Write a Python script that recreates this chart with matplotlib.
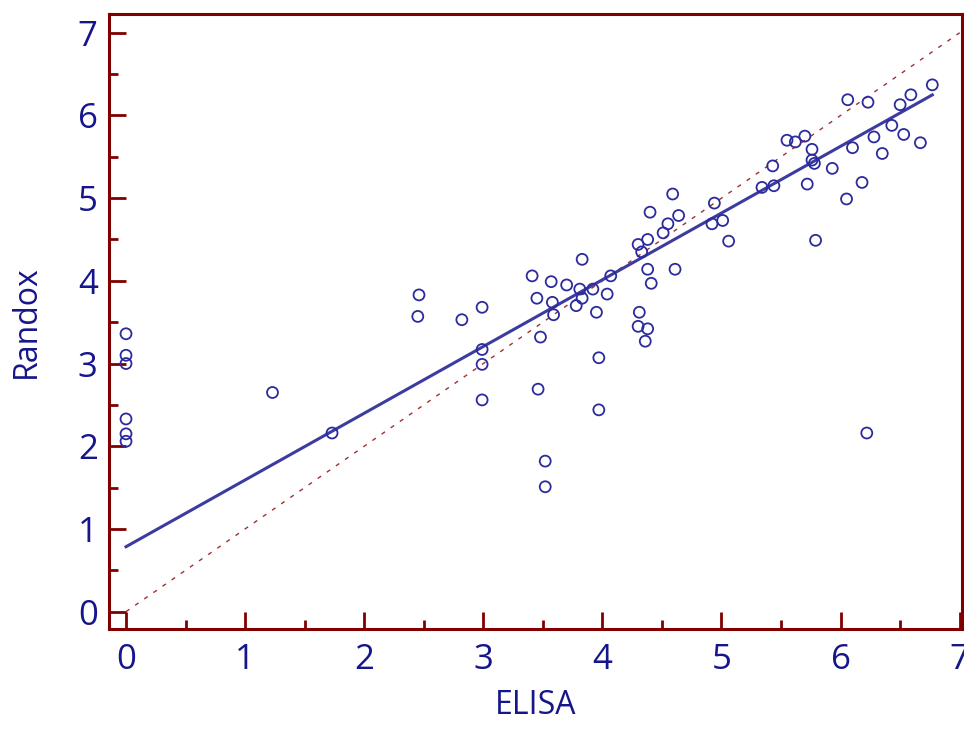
import numpy as np
import matplotlib
matplotlib.use("Agg")
import matplotlib.pyplot as plt
from matplotlib.ticker import MultipleLocator

# Data
elisa = [0, 0, 0, 0, 0, 0,
         1.23, 1.73, 2.46, 2.45, 2.82, 2.99, 2.99, 2.99, 2.99,
         3.41, 3.57, 3.70, 3.45, 3.58, 3.59, 3.48, 3.46, 3.52, 3.52,
         3.83, 3.81, 3.83, 3.78, 3.95, 3.97, 3.97, 3.92, 4.04, 4.07,
         4.59, 4.40, 4.64, 4.55, 4.51, 4.30, 4.38, 4.33, 4.38, 4.61, 4.41, 4.31, 4.30, 4.38, 4.36,
         4.94, 4.92, 5.01, 5.06,
         5.34, 5.44, 5.43, 5.55, 5.62, 5.70, 5.76, 5.76, 5.78, 5.93, 5.72, 5.79,
         6.05, 6.06, 6.23, 6.10, 6.28, 6.35, 6.18, 6.43, 6.53, 6.50, 6.59, 6.67, 6.77, 6.22]
randox = [3.36, 3.10, 3.00, 2.33, 2.15, 2.06,
          2.65, 2.16, 3.83, 3.57, 3.53, 3.68, 3.17, 2.99, 2.56,
          4.06, 3.99, 3.95, 3.79, 3.74, 3.59, 3.32, 2.69, 1.82, 1.51,
          4.26, 3.90, 3.79, 3.70, 3.62, 3.07, 2.44, 3.90, 3.84, 4.06,
          5.05, 4.83, 4.79, 4.69, 4.58, 4.44, 4.50, 4.35, 4.14, 4.14, 3.97, 3.62, 3.45, 3.42, 3.27,
          4.94, 4.69, 4.73, 4.48,
          5.13, 5.15, 5.39, 5.70, 5.68, 5.75, 5.59, 5.46, 5.42, 5.36, 5.17, 4.49,
          4.99, 6.19, 6.16, 5.61, 5.74, 5.54, 5.19, 5.88, 5.77, 6.13, 6.25, 5.67, 6.37, 2.16]

fit_intercept = 0.785
fit_slope = 0.807
identity = [0, 7]

tick_values = [0, 1, 2, 3, 4, 5, 6, 7]
x_label = "ELISA"
y_label = "Randox"

spine_c = "#800000"
pt_c = "#2b2b9e"
line_c = "#3c3ca0"
text_c = "#16168c"

fig = plt.figure(figsize=(9.64, 7.40), dpi=100)
ax = fig.add_axes([0.1128, 0.15, 0.8852, 0.831])

ax.plot(identity, identity, linestyle=(0, (3, 5)), color="#a03030", lw=1.0, zorder=1)
xf = np.array([min(elisa), max(elisa)])
ax.plot(xf, fit_intercept + fit_slope * xf, color=line_c, lw=2.2, zorder=2)
ax.scatter(elisa, randox, s=62, facecolors="none", edgecolors=pt_c, linewidths=1.3, zorder=3)

ax.set_xlim(-0.145, 7.02)
ax.set_ylim(-0.21, 7.226)
ax.set_xticks(tick_values)
ax.set_yticks(tick_values)
ax.xaxis.set_minor_locator(MultipleLocator(0.5))
ax.yaxis.set_minor_locator(MultipleLocator(0.5))

for s in ax.spines.values():
    s.set_color(spine_c)
    s.set_linewidth(2.2)

ax.tick_params(which="major", direction="in", length=12, width=2.0, color=spine_c,
               top=False, right=False, labelsize=25, labelcolor=text_c)
ax.tick_params(axis="x", which="major", pad=10)
ax.tick_params(axis="y", which="major", pad=8)
ax.tick_params(which="minor", direction="in", length=6.5, width=2.0, color=spine_c,
               top=False, right=False)

for lab in ax.get_xticklabels() + ax.get_yticklabels():
    lab.set_fontfamily("Open Sans")

ax.set_xlabel(x_label, fontsize=23, color=text_c, family="Open Sans")
ax.set_ylabel(y_label, fontsize=23, color=text_c, family="Open Sans")
ax.xaxis.set_label_coords(0.5, -0.124)
ax.yaxis.set_label_coords(-0.097, 0.5)
ax.xaxis.label.set_va("center")
ax.yaxis.label.set_va("center")

fig.savefig("out.png", dpi=100)
